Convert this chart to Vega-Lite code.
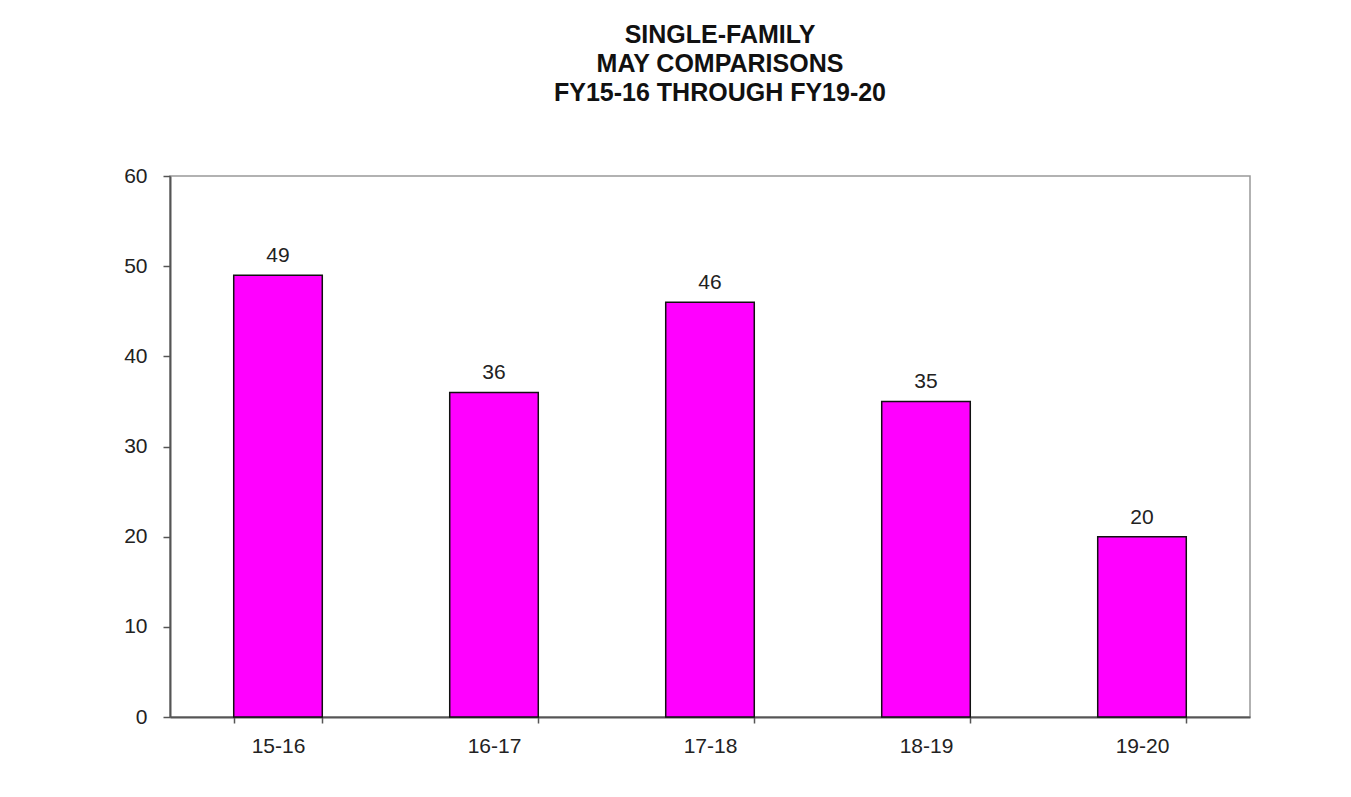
{
  "$schema": "https://vega.github.io/schema/vega-lite/v6.json",
  "autosize": "none",
  "width": 1080,
  "height": 541,
  "padding": {"left": 170, "top": 176, "right": 101, "bottom": 80},
  "background": "white",
  "title": {
    "text": ["SINGLE-FAMILY", "MAY  COMPARISONS", "FY15-16 THROUGH  FY19-20"],
    "font": "Liberation Sans",
    "fontSize": 25,
    "fontWeight": "bold",
    "color": "#111",
    "lineHeight": 29,
    "anchor": "middle",
    "dx": 10,
    "offset": 59
  },
  "data": {
    "values": [
      {"year": "15-16", "value": 49},
      {"year": "16-17", "value": 36},
      {"year": "17-18", "value": 46},
      {"year": "18-19", "value": 35},
      {"year": "19-20", "value": 20}
    ]
  },
  "config": {
    "view": {"stroke": "#999", "strokeWidth": 1.5},
    "font": "Liberation Sans"
  },
  "encoding": {
    "x": {
      "field": "year",
      "type": "nominal",
      "sort": null,
      "scale": {"paddingInner": 0.59, "paddingOuter": 0.295},
      "axis": {
        "title": null,
        "labelAngle": 0,
        "labelFont": "Liberation Sans",
        "labelFontSize": 21,
        "labelColor": "#222",
        "labelPadding": 12,
        "tickBand": "extent",
        "tickSize": 6,
        "tickColor": "#555",
        "tickWidth": 1.5,
        "domainColor": "#555",
        "domainWidth": 2,
        "grid": false
      }
    },
    "y": {
      "field": "value",
      "type": "quantitative",
      "scale": {"domain": [0, 60], "nice": false},
      "axis": {
        "title": null,
        "values": [0, 10, 20, 30, 40, 50, 60],
        "labelFont": "Liberation Sans",
        "labelFontSize": 21,
        "labelColor": "#222",
        "labelPadding": 16,
        "tickSize": 7,
        "tickColor": "#555",
        "tickWidth": 1.5,
        "domainColor": "#555",
        "domainWidth": 2,
        "grid": false
      }
    }
  },
  "layer": [
    {
      "mark": {"type": "bar", "color": "#FF00FF", "stroke": "#111", "strokeWidth": 1.5}
    },
    {
      "mark": {"type": "text", "baseline": "bottom", "dy": -9, "fontSize": 21, "font": "Liberation Sans", "color": "#222"},
      "encoding": {"text": {"field": "value", "type": "quantitative"}}
    }
  ]
}
